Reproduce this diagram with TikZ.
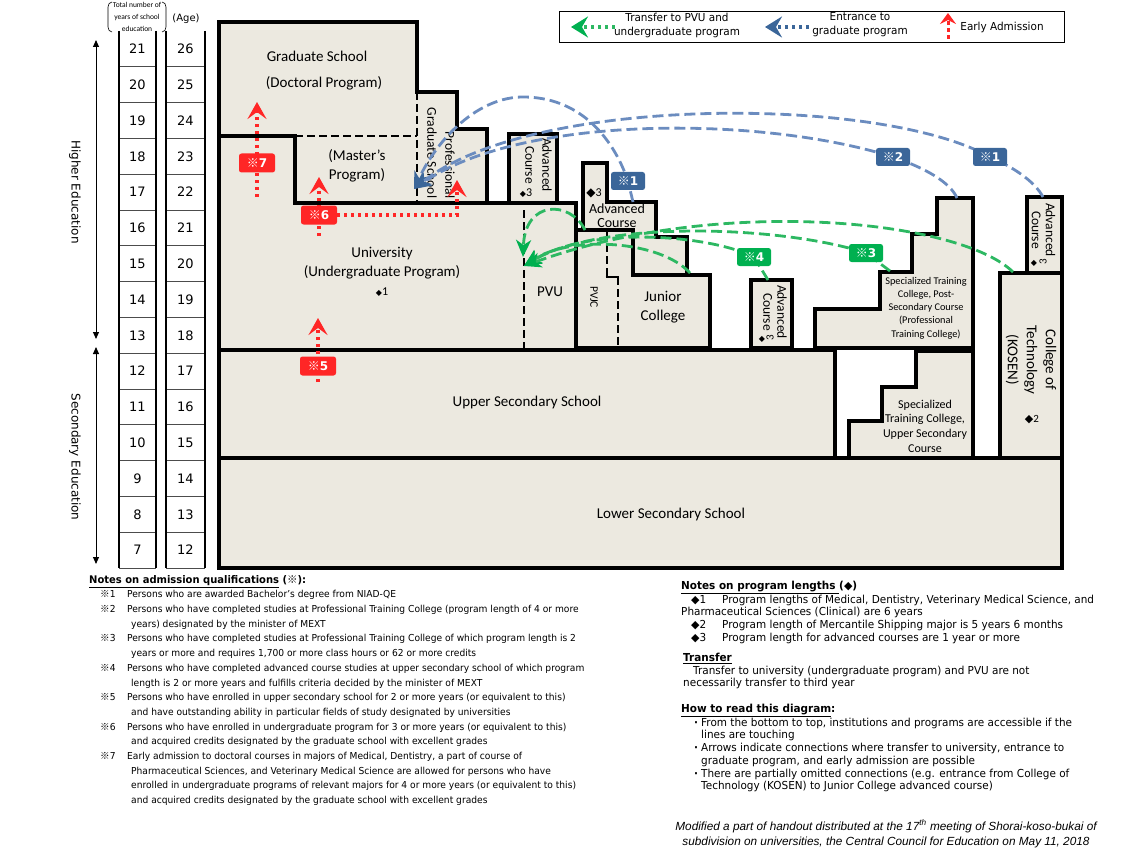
\documentclass[tikz,border=0pt]{standalone}
\usepackage{fontspec}
\setmainfont{Carlito}
\newfontfamily\vfont{DejaVu Sans}
\newfontfamily\nfont[FakeStretch=0.95]{DejaVu Sans}
\newfontfamily\ifont{Liberation Sans}
\newfontfamily\cjk{Noto Sans CJK JP}
\usetikzlibrary{arrows.meta}
\definecolor{boxfill}{HTML}{ECE9E0}
\definecolor{bcurve}{HTML}{6B8CBF}
\definecolor{blab}{HTML}{3B6699}
\definecolor{gcurve}{HTML}{2DB862}
\definecolor{glab}{HTML}{00B050}
\definecolor{rred}{HTML}{FF2626}
\newcommand\kome{{\cjk ※}}
\newcommand\dia{{\vfont ◆}}
\begin{document}
\begin{tikzpicture}[x=1pt,y=-1pt,
  box/.style={draw=black,line width=3.2pt,fill=boxfill,line join=miter},
  dsep/.style={draw=black,line width=2.6pt,dash pattern=on 8pt off 4pt},
  solidsep/.style={draw=black,line width=2.6pt},
  txt/.style={inner sep=0pt,align=center,font=\fontsize{15}{19}\selectfont},
  rtxt/.style={inner sep=0pt,align=center,rotate=-90},
  num/.style={inner sep=0pt,font=\vfont\fontsize{13}{15}\selectfont},
  gridl/.style={draw=black!70,line width=0.9pt},
  gridv/.style={draw=black,line width=1.1pt},
  bc/.style={draw=bcurve,line width=2.8pt,dash pattern=on 11pt off 5pt,
    -{Stealth[length=17pt,width=15pt,inset=5pt,fill=blab,color=blab]}},
  gc/.style={draw=gcurve,line width=2.8pt,dash pattern=on 11pt off 5pt,
    -{Stealth[length=17pt,width=15pt,inset=5pt,fill=glab,color=glab]}},
  rc/.style={draw=rred,line width=3.4pt,dash pattern=on 3.4pt off 3.6pt,
    -{Stealth[length=17pt,width=19pt,inset=7pt,fill=rred,color=rred]}},
  tag/.style={rounded corners=2.5pt,text=white,inner sep=0pt,minimum width=34pt,minimum height=18pt,font=\vfont\bfseries\fontsize{12}{13}\selectfont},
  btag/.style={tag,fill=blab},
  gtag/.style={tag,fill=glab},
  rtag/.style={tag,fill=rred,minimum width=36pt,minimum height=19pt},
  notes/.style={inner sep=0pt,align=left,anchor=north west,font=\nfont\fontsize{9.6}{14.7}\selectfont},
  notesr/.style={notes,font=\nfont\fontsize{11}{12.7}\selectfont},
  legtxt/.style={inner sep=0pt,align=center,font=\nfont\fontsize{11}{14}\selectfont},
  small/.style={inner sep=0pt}
]
\useasboundingbox (0,0) rectangle (1137,853);

% ---------- header of grid ----------
\node[inner sep=0pt,align=center,font=\fontsize{7.5}{12}\selectfont] (hdr) at (137,17) {Total number of\\years of school\\education};
\draw[line width=0.6pt] (112,2) to[out=180,in=90] (108,7) -- (108,27) to[out=-90,in=180] (112,32);
\draw[line width=0.6pt] (162,2) to[out=0,in=90] (166,7) -- (166,27) to[out=-90,in=0] (162,32);
\node[inner sep=0pt,font=\vfont\fontsize{10}{12}\selectfont] (agehdr) at (186,19) {(Age)};

% ---------- grid ----------
\foreach \k in {0,...,14}{
  \pgfmathtruncatemacro\yr{21-\k}
  \pgfmathtruncatemacro\ag{26-\k}
  \pgfmathsetmacro\yc{48.9+35.8*\k}
  \node[num] (yr\yr) at (137.5,\yc) {\yr};
  \node[num] (ag\ag) at (185.5,\yc) {\ag};
}
\foreach \k in {1,...,15}{
  \pgfmathsetmacro\yy{31+35.8*\k}
  \draw[gridl] (119,\yy) -- (156,\yy);
  \draw[gridl] (166,\yy) -- (205,\yy);
}
\draw[gridv] (119,31) -- (119,568) (156,31) -- (156,568) (166,31) -- (166,568) (205,31) -- (205,568);

% ---------- level arrows ----------
\coordinate (hiT) at (96,40); \coordinate (hiB) at (96,339);
\coordinate (seT) at (96,347); \coordinate (seB) at (96,564);
\draw[line width=1pt,{Triangle[length=7pt,width=6pt]}-{Triangle[length=7pt,width=6pt]}] (hiT) -- (hiB);
\draw[line width=1pt,{Triangle[length=7pt,width=6pt]}-{Triangle[length=7pt,width=6pt]}] (seT) -- (seB);
\node[rotate=-90,inner sep=0pt,font=\vfont\fontsize{12}{14}\selectfont] (higher) at (75,192) {Higher Education};
\node[rotate=-90,inner sep=0pt,font=\vfont\fontsize{12}{14}\selectfont] (second) at (75,457) {Secondary Education};

% ---------- boxes ----------
\draw[box] (219,458) rectangle (1062,568);
\node[txt] (lower) at (671,514) {Lower Secondary School};
\draw[box] (219,350) rectangle (835,458);
\node[txt] (upper) at (527,402) {Upper Secondary School};

\draw[box] (849,458) -- (849,421) -- (882,421) -- (882,387) -- (916,387) -- (916,351) -- (973,351) -- (973,458) -- cycle;
\node[txt,font=\fontsize{12}{14.6}\selectfont] (stcu) at (925,426) {Specialized\\Training College,\\Upper Secondary\\Course};

\draw[box] (1000,273) rectangle (1062,458);
\node[rtxt,font=\fontsize{15}{19}\selectfont] (kosen) at (1031,360) {College of\\Technology\\(KOSEN)};
\node[small,font=\fontsize{11}{12}\selectfont] (kd) at (1032,420) {\dia{\fontsize{8}{9}\selectfont}2};

\draw[box] (1027,197) rectangle (1062,273);
\node[rtxt,font=\fontsize{13.5}{14}\selectfont] (kadv) at (1043.5,230) {Advanced\\Course};
\node[small,font=\vfont\fontsize{8}{9}\selectfont] (kadvd) at (1034,263) {◆};
\node[small,rotate=90,font=\fontsize{11}{12}\selectfont] (kadv3) at (1043,262) {3};

\draw[box] (815,348) -- (815,309) -- (880,309) -- (880,272) -- (912,272) -- (912,234) -- (937,234) -- (937,198) -- (973,198) -- (973,348) -- cycle;
\node[txt,font=\fontsize{10.3}{13.2}\selectfont] (ptc) at (926,308) {Specialized Training\\College, Post-\\Secondary Course\\(Professional\\Training College)};

\draw[box] (751,280) rectangle (792,348);
\node[rtxt,font=\fontsize{13.5}{14}\selectfont] (uadv) at (775,312) {Advanced\\Course};
\node[small,font=\vfont\fontsize{8}{9}\selectfont] (uadvd) at (762,339) {◆};
\node[small,rotate=90,font=\fontsize{11}{12}\selectfont] (uadv3) at (770,338) {3};

% junior college
\draw[box] (576,348) -- (576,230) -- (633,230) -- (633,275) -- (710,275) -- (710,348) -- cycle;
\draw[box] (583,230) -- (583,163) -- (607,163) -- (607,202) -- (656,202) -- (656,237) -- (687,237) -- (687,275) -- (633,275) -- (633,230) -- cycle;
\draw[dsep] (607,232) -- (607,277);
\draw[solidsep] (605.7,277) -- (619.3,277);
\draw[dsep] (618,277) -- (618,348);
\node[rtxt,font=\fontsize{11.5}{13}\selectfont] (pvjc) at (594,297) {PVJC};
\node[txt] (jc) at (663,307) {Junior\\College};
\node[small,font=\fontsize{12}{13}\selectfont] (jcd) at (594,193) {\dia{}3};
\node[txt,font=\fontsize{14}{14}\selectfont] (jcadv) at (617,216) {Advanced\\Course};

% university
\draw[box] (219,350) -- (219,136) -- (295,136) -- (295,203) -- (576,203) -- (576,350) -- cycle;
\draw[dsep] (524,210) -- (524,350);
\node[txt] (univ) at (382,263) {University\\(Undergraduate Program)};
\node[small,font=\fontsize{12}{13}\selectfont] (univd) at (382,292) {{\vfont\fontsize{8}{9}\selectfont ◆}1};
\node[txt] (pvu) at (550,292) {PVU};

\draw[box] (509,134) rectangle (557,203);
\node[rtxt,font=\fontsize{13.5}{17}\selectfont] (vadv) at (538.5,165) {Advanced\\Course};
\node[small,font=\fontsize{12}{13}\selectfont] (vadvd) at (526,193) {{\vfont\fontsize{8}{9}\selectfont ◆}3};

% graduate school
\draw[box] (219,22) -- (417,22) -- (417,92) -- (457,92) -- (457,129) -- (487,129) -- (487,203) -- (295,203) -- (295,136) -- (219,136) -- cycle;
\draw[dsep] (295,136) -- (417,136);
\draw[dsep] (417,92) -- (417,203);
\node[txt] (grad1) at (317,56) {Graduate School};
\node[txt] (grad2) at (324,83) {(Doctoral Program)};
\node[txt] (master) at (357,166) {(Master’s\\Program)};
\node[rtxt,align=right,font=\fontsize{13.5}{18}\selectfont] (pgs) at (441,153) {Professional\\Graduate School};

% ---------- blue curves (entrance to graduate program) ----------
\coordinate (bt) at (414,189);
\coordinate (b1s) at (633,202); \coordinate (b1l) at (628,181);
\coordinate (b2s) at (957,198); \coordinate (b2l) at (893,157);
\coordinate (b3s) at (1043,197); \coordinate (b3l) at (990,157);
\draw[bc] (b1s) -- (b1l) .. controls (612,135) and (578,97) .. (523,97) .. controls (478,97) and (438,138) .. (bt);
\draw[bc] (b2s) .. controls (950,182) and (925,168) .. (b2l) .. controls (760,115) and (520,115) .. (bt);
\draw[bc] (b3s) .. controls (1035,182) and (1015,168) .. (b3l) .. controls (880,95) and (530,95) .. (bt);

% ---------- green curves (transfer) ----------
\coordinate (g1s) at (585,230); \coordinate (g1t) at (523,257);
\coordinate (g2s) at (690,273); \coordinate (gt) at (524,266);
\coordinate (g3s) at (768,280); \coordinate (g3l) at (754,257);
\coordinate (g4s) at (890,271); \coordinate (g4l) at (866,253);
\coordinate (g5s) at (1013,272);
\draw[gc] (g1s) .. controls (570,200) and (525,200) .. (g1t);
\draw[gc] (g2s) .. controls (660,240) and (570,235) .. (gt);
\draw[gc] (g3s) -- (g3l) .. controls (710,235) and (590,225) .. (gt);
\draw[gc] (g4s) -- (g4l) .. controls (780,225) and (600,220) .. (gt);
\draw[gc] (g5s) .. controls (960,220) and (720,195) .. (gt);

% ---------- red arrows (early admission) ----------
\coordinate (r7s) at (257,197); \coordinate (r7t) at (257,102);
\coordinate (r6s) at (319,236); \coordinate (r6t) at (319,177);
\coordinate (r6a) at (337,215); \coordinate (r6b) at (457,215); \coordinate (r6c) at (457,180);
\coordinate (r5s) at (318,382); \coordinate (r5t) at (318,318);
\draw[rc] (r7s) -- (r7t);
\draw[rc] (r6s) -- (r6t);
\draw[rc] (r6a) -- (r6b) -- (r6c);
\draw[rc] (r5s) -- (r5t);

% ---------- tags ----------
\node[btag] (t1a) at (b1l) {\kome1};
\node[btag] (t2) at (b2l) {\kome2};
\node[btag] (t1b) at (b3l) {\kome1};
\node[gtag] (t4) at (g3l) {\kome4};
\node[gtag] (t3) at (g4l) {\kome3};
\node[rtag] (t7) at (257,163) {\kome7};
\node[rtag] (t6) at (319,215) {\kome6};
\node[rtag] (t5) at (318,366) {\kome5};

% ---------- legend ----------
\node[draw=black,line width=1pt,inner sep=0pt,minimum width=505pt,minimum height=31pt,anchor=north west] (legend) at (559,11) {};
\coordinate (lg1) at (615,27); \coordinate (lg2) at (571,27);
\draw[gc,dash pattern=on 3.5pt off 3.5pt,line width=3.4pt,-{Stealth[length=17pt,width=21pt,inset=6pt,fill=glab,color=glab]}] (lg1) -- (lg2);
\node[legtxt] (lt1) at (677,25) {Transfer to PVU and\\undergraduate program};
\coordinate (lb1) at (809,27); \coordinate (lb2) at (765,27);
\draw[bc,draw=blab,dash pattern=on 3.5pt off 3.5pt,line width=3.4pt,-{Stealth[length=17pt,width=21pt,inset=6pt,fill=blab,color=blab]}] (lb1) -- (lb2);
\node[legtxt] (lt2) at (860,25) {Entrance to\\graduate program};
\coordinate (lr1) at (948,39); \coordinate (lr2) at (948,13);
\draw[rc,line width=3pt,dash pattern=on 3.5pt off 3.5pt,-{Stealth[length=11pt,width=16pt,inset=4pt,fill=rred,color=rred]}] (lr1) -- (lr2);
\node[legtxt] (lt3) at (1002,27) {Early Admission};

% ---------- notes ----------
\node[notes] (notesA) at (89,575) {%
{\fontsize{10.5}{14.7}\selectfont\textbf{\underline{Notes on admission qualifications} (\kome):}}\\
\hspace*{11pt}\makebox[27pt][l]{\kome1}Persons who are awarded Bachelor’s degree from NIAD-QE\\
\hspace*{11pt}\makebox[27pt][l]{\kome2}Persons who have completed studies at Professional Training College (program length of 4 or more\\
\hspace*{42pt}years) designated by the minister of MEXT\\
\hspace*{11pt}\makebox[27pt][l]{\kome3}Persons who have completed studies at Professional Training College of which program length is 2\\
\hspace*{42pt}years or more and requires 1,700 or more class hours or 62 or more credits\\
\hspace*{11pt}\makebox[27pt][l]{\kome4}Persons who have completed advanced course studies at upper secondary school of which program\\
\hspace*{42pt}length is 2 or more years and fulfills criteria decided by the minister of MEXT\\
\hspace*{11pt}\makebox[27pt][l]{\kome5}Persons who have enrolled in upper secondary school for 2 or more years (or equivalent to this)\\
\hspace*{42pt}and have outstanding ability in particular fields of study designated by universities\\
\hspace*{11pt}\makebox[27pt][l]{\kome6}Persons who have enrolled in undergraduate program for 3 or more years (or equivalent to this)\\
\hspace*{42pt}and acquired credits designated by the graduate school with excellent grades\\
\hspace*{11pt}\makebox[27pt][l]{\kome7}Early admission to doctoral courses in majors of Medical, Dentistry, a part of course of\\
\hspace*{42pt}Pharmaceutical Sciences, and Veterinary Medical Science are allowed for persons who have\\
\hspace*{42pt}enrolled in undergraduate programs of relevant majors for 4 or more years (or equivalent to this)\\
\hspace*{42pt}and acquired credits designated by the graduate school with excellent grades};

\node[notesr] (notesB) at (681,581) {%
\textbf{\underline{Notes on program lengths }(\dia)}\\
\hspace*{10pt}\makebox[31pt][l]{\dia1}Program lengths of Medical, Dentistry, Veterinary Medical Science, and\\
Pharmaceutical Sciences (Clinical) are 6 years\\
\hspace*{10pt}\makebox[31pt][l]{\dia2}Program length of Mercantile Shipping major is 5 years 6 months\\
\hspace*{10pt}\makebox[31pt][l]{\dia3}Program length for advanced courses are 1 year or more};

\node[notesr] (notesC) at (683,653) {%
\textbf{\underline{Transfer}}\\
\hspace*{10pt}Transfer to university (undergraduate program) and PVU are not\\
necessarily transfer to third year};

\node[notesr] (notesD) at (681,704) {%
\textbf{\underline{How to read this diagram}:}\\
\hspace*{13pt}\makebox[7pt][l]{\textbf{·}}From the bottom to top, institutions and programs are accessible if the\\
\hspace*{20pt}lines are touching\\
\hspace*{13pt}\makebox[7pt][l]{\textbf{·}}Arrows indicate connections where transfer to university, entrance to\\
\hspace*{20pt}graduate program, and early admission are possible\\
\hspace*{13pt}\makebox[7pt][l]{\textbf{·}}There are partially omitted connections (e.g. entrance from College of\\
\hspace*{20pt}Technology (KOSEN) to Junior College advanced course)};

\node[inner sep=0pt,align=center,font=\ifont\itshape\fontsize{11.8}{15.5}\selectfont] (foot) at (886,834) {Modified a part of handout distributed at the 17\textsuperscript{th} meeting of Shorai-koso-bukai of\\subdivision on universities, the Central Council for Education on May 11, 2018};
\end{tikzpicture}
\end{document}
